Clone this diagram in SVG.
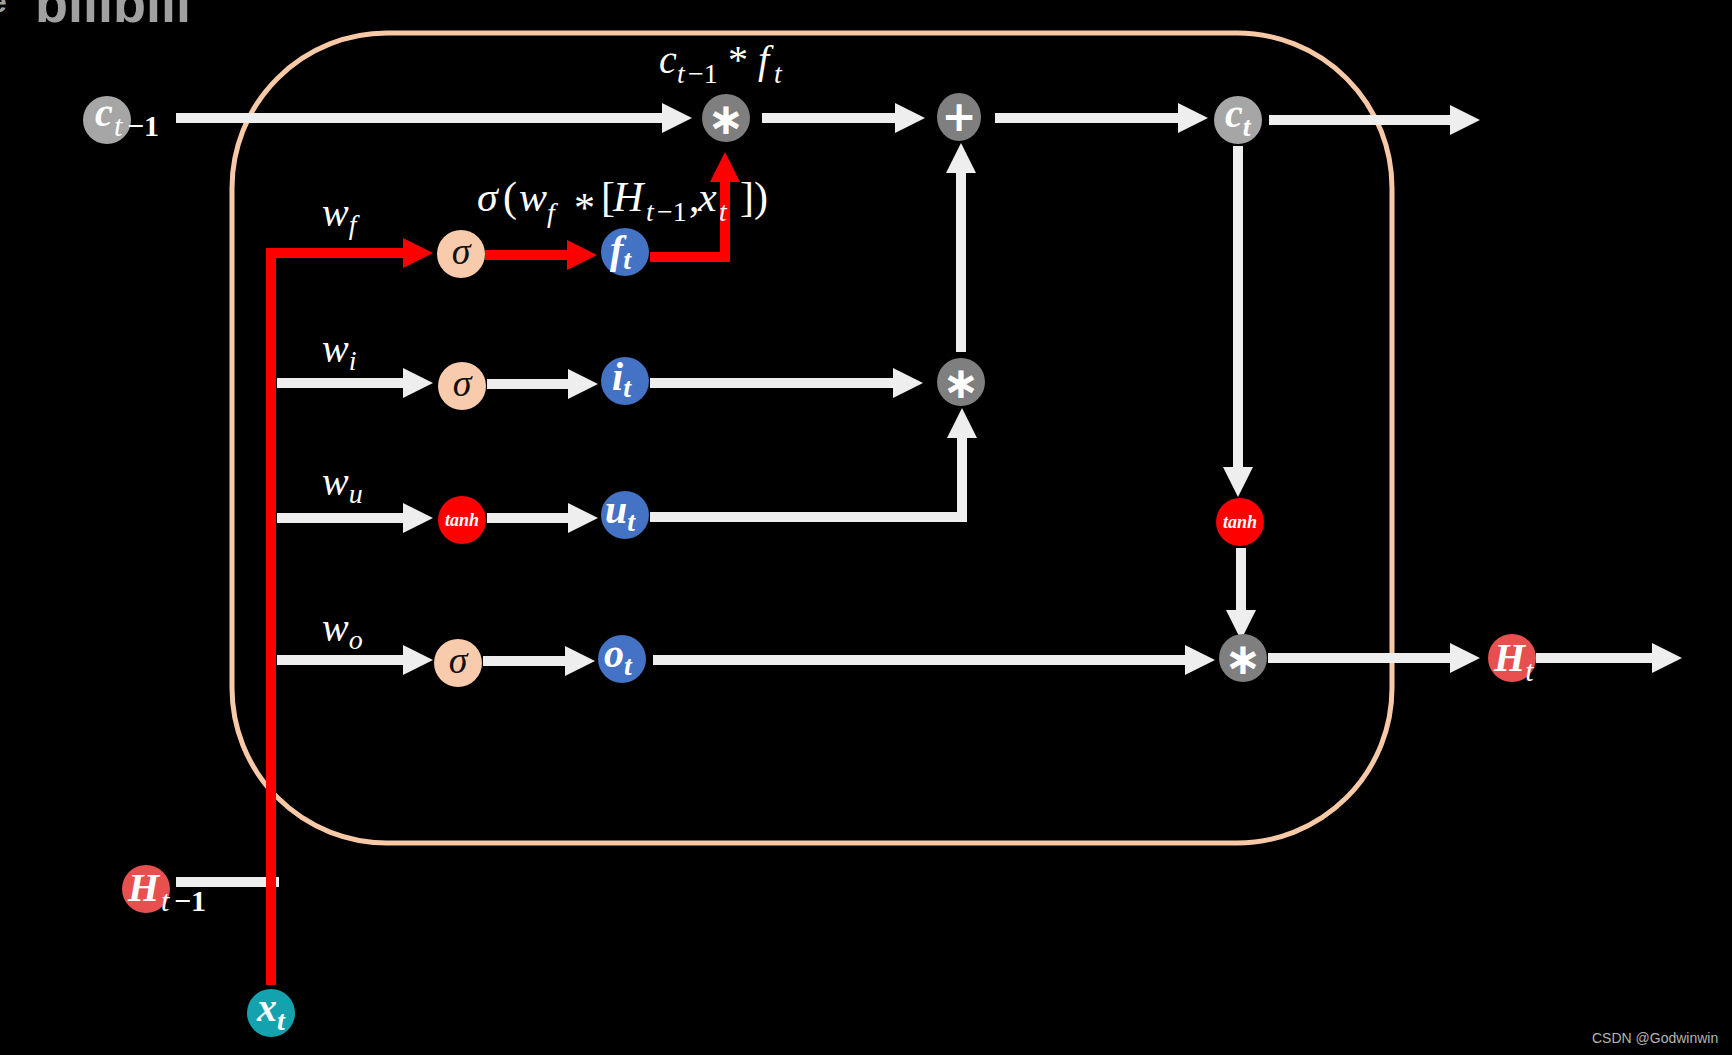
<svg xmlns="http://www.w3.org/2000/svg" width="1732" height="1055" viewBox="0 0 1732 1055">
<defs>
<style>
.conn{stroke:#EEEEEE;stroke-width:10;fill:none}
.red{stroke:#FF0000;stroke-width:10;fill:none;stroke-linejoin:miter}
.sig{fill:#F8CBAD}
.blue{fill:#4472C4}
.op{fill:#7F7F7F}
.cst{fill:#A6A6A6}
.hred{fill:#E84F4F}
.tanhc{fill:#FF0000}
.nb{font-family:"Liberation Serif","DejaVu Serif",serif;font-style:italic;font-weight:bold;fill:#FFFFFF}
.lab{font-family:"Liberation Serif","DejaVu Serif",serif;font-style:italic;fill:#FFFFFF}
.up{font-style:normal}
.sym{font-family:"DejaVu Sans",sans-serif;font-weight:bold;fill:#FFFFFF;text-anchor:middle}
.sg{font-family:"Liberation Serif","DejaVu Serif",serif;font-style:italic;fill:#111111;text-anchor:middle;font-size:38px}
.th{font-family:"Liberation Serif","DejaVu Serif",serif;font-style:italic;font-weight:bold;fill:#FFFFFF;text-anchor:middle;font-size:18px}
</style>
<marker id="aw" markerUnits="userSpaceOnUse" markerWidth="30" markerHeight="30" viewBox="0 0 30 30" refX="2" refY="15" orient="auto"><path d="M0,0 L30,15 L0,30 Z" fill="#EEEEEE"/></marker>
<marker id="ar" markerUnits="userSpaceOnUse" markerWidth="30" markerHeight="30" viewBox="0 0 30 30" refX="2" refY="15" orient="auto"><path d="M0,0 L30,15 L0,30 Z" fill="#FF0000"/></marker>
</defs>
<rect width="1732" height="1055" fill="#000000"/>
<g id="logo-fragment">
<text x="-10" y="12" font-family="Liberation Sans,sans-serif" font-weight="bold" font-size="30" fill="#A0A0A0">e</text>
<text x="35" y="22" font-family="Liberation Sans,sans-serif" font-weight="bold" font-size="54" fill="#A0A0A0">bilibili</text>
</g>
<g id="cell">
<rect x="232" y="33" width="1160" height="810" rx="155" ry="155" fill="none" stroke="#F8C9A6" stroke-width="5"/>
</g>
<g id="connectors">
<path class="conn" d="M176,118 H664" marker-end="url(#aw)"/>
<path class="conn" d="M762,118 H897" marker-end="url(#aw)"/>
<path class="conn" d="M995,118 H1180" marker-end="url(#aw)"/>
<path class="conn" d="M1269,120 H1452" marker-end="url(#aw)"/>
<path class="conn" d="M1238,146 V469" marker-end="url(#aw)"/>
<path class="conn" d="M1241,548 V612" marker-end="url(#aw)"/>
<path class="conn" d="M653,660 H1187" marker-end="url(#aw)"/>
<path class="conn" d="M1268,658 H1452" marker-end="url(#aw)"/>
<path class="conn" d="M1536,658 H1654" marker-end="url(#aw)"/>
<path class="conn" d="M650,383 H895" marker-end="url(#aw)"/>
<path class="conn" d="M650,517 H962 V436" marker-end="url(#aw)"/>
<path class="conn" d="M961,352 V171" marker-end="url(#aw)"/>
<path class="conn" d="M277,383 H405" marker-end="url(#aw)"/>
<path class="conn" d="M487,384 H570" marker-end="url(#aw)"/>
<path class="conn" d="M277,518 H405" marker-end="url(#aw)"/>
<path class="conn" d="M487,518 H570" marker-end="url(#aw)"/>
<path class="conn" d="M277,660 H405" marker-end="url(#aw)"/>
<path class="conn" d="M483,661 H567" marker-end="url(#aw)"/>
<path class="conn" d="M176,882 H279"/>
<path class="red" d="M271,985 V253 H405" marker-end="url(#ar)"/>
<path class="red" d="M485,255 H569" marker-end="url(#ar)"/>
<path class="red" d="M650,257 H725 V180" marker-end="url(#ar)"/>
</g>
<g id="labels">
<text class="lab" font-size="40"><tspan x="659" y="73">c</tspan><tspan x="677" y="83" font-size="28">t</tspan><tspan class="up" x="688" y="83" font-size="28">−1</tspan><tspan class="up" x="728" y="73">*</tspan><tspan x="758" y="73">f</tspan><tspan x="774" y="83" font-size="28">t</tspan></text>
<text class="lab" font-size="42"><tspan x="477" y="211">σ</tspan><tspan class="up" x="503" y="211">(</tspan><tspan x="519" y="211">w</tspan><tspan x="547" y="222" font-size="28">f</tspan><tspan class="up" x="574" y="222">*</tspan><tspan class="up" x="601" y="211">[</tspan><tspan x="613" y="211">H</tspan><tspan x="646" y="221" font-size="28">t</tspan><tspan class="up" x="657" y="221" font-size="28">−1</tspan><tspan class="up" x="689" y="211">,</tspan><tspan x="698" y="211">x</tspan><tspan x="719" y="221" font-size="28">t</tspan><tspan class="up" x="740" y="211">])</tspan></text>
<text class="lab" x="322" y="226" font-size="40">w<tspan font-size="28" dy="8">f</tspan></text>
<text class="lab" x="322" y="362" font-size="40">w<tspan font-size="28" dy="8">i</tspan></text>
<text class="lab" x="322" y="495" font-size="40">w<tspan font-size="28" dy="8">u</tspan></text>
<text class="lab" x="322" y="641" font-size="40">w<tspan font-size="28" dy="8">o</tspan></text>
</g>
<g id="node-c-prev">
<circle class="cst" cx="107" cy="120" r="24"/>
<text class="nb" font-size="40"><tspan x="95" y="126">c</tspan><tspan x="114" y="136" font-size="30" font-weight="normal">t</tspan><tspan class="up" x="127" y="136" font-size="30">−1</tspan></text>
</g>
<g id="node-mul-f">
<circle class="op" cx="726" cy="118" r="24"/>
<text class="sym" x="726" y="134" font-size="44">∗</text>
</g>
<g id="node-plus">
<ellipse class="op" cx="959" cy="117" rx="22" ry="24"/>
<text class="sym" x="959" y="131" font-size="42">+</text>
</g>
<g id="node-c-t">
<circle class="cst" cx="1238" cy="120" r="24"/>
<text class="nb" x="1225" y="127" font-size="40">c<tspan font-size="28" dy="9">t</tspan></text>
</g>
<g id="node-sigma-f">
<circle class="sig" cx="461" cy="254" r="24"/>
<text class="sg" x="461" y="264">σ</text>
</g>
<g id="node-f-t">
<circle class="blue" cx="625" cy="252" r="24"/>
<text class="nb" x="610" y="263" font-size="40">f<tspan font-size="28" dy="6">t</tspan></text>
</g>
<g id="node-sigma-i">
<circle class="sig" cx="462" cy="386" r="24"/>
<text class="sg" x="462" y="396">σ</text>
</g>
<g id="node-i-t">
<circle class="blue" cx="625" cy="381" r="24"/>
<text class="nb" x="612" y="390" font-size="40">i<tspan font-size="28" dy="7">t</tspan></text>
</g>
<g id="node-tanh-u">
<circle class="tanhc" cx="462" cy="520" r="24"/>
<text class="th" x="462" y="526">tanh</text>
</g>
<g id="node-u-t">
<circle class="blue" cx="625" cy="515" r="24"/>
<text class="nb" x="605" y="523" font-size="40">u<tspan font-size="28" dy="8">t</tspan></text>
</g>
<g id="node-sigma-o">
<circle class="sig" cx="458" cy="663" r="24"/>
<text class="sg" x="458" y="673">σ</text>
</g>
<g id="node-o-t">
<circle class="blue" cx="622" cy="659" r="24"/>
<text class="nb" x="604" y="667" font-size="40">o<tspan font-size="28" dy="8">t</tspan></text>
</g>
<g id="node-mul-iu">
<circle class="op" cx="961" cy="382" r="24"/>
<text class="sym" x="961" y="398" font-size="44">∗</text>
</g>
<g id="node-tanh-c">
<circle class="tanhc" cx="1240" cy="522" r="24"/>
<text class="th" x="1240" y="528">tanh</text>
</g>
<g id="node-mul-o">
<circle class="op" cx="1243" cy="658" r="24"/>
<text class="sym" x="1243" y="674" font-size="44">∗</text>
</g>
<g id="node-H-t">
<circle class="hred" cx="1512" cy="658" r="24"/>
<text class="nb" x="1494" y="671" font-size="40">H<tspan font-size="30" dy="10" font-weight="normal">t</tspan></text>
</g>
<g id="node-H-prev">
<circle class="hred" cx="146" cy="889" r="24"/>
<text class="nb" font-size="40"><tspan x="128" y="901">H</tspan><tspan x="161" y="911" font-size="30" font-weight="normal">t</tspan><tspan class="up" x="174" y="911" font-size="30">−1</tspan></text>
</g>
<g id="node-x-t">
<circle cx="271" cy="1013" r="24" fill="#14A3AE"/>
<text class="nb" x="257" y="1021" font-size="40">x<tspan font-size="28" dy="9">t</tspan></text>
</g>
<text x="1592" y="1043" font-family="Liberation Sans,Arial,sans-serif" font-size="14" fill="#B4B4B4">CSDN @Godwinwin</text>
</svg>
